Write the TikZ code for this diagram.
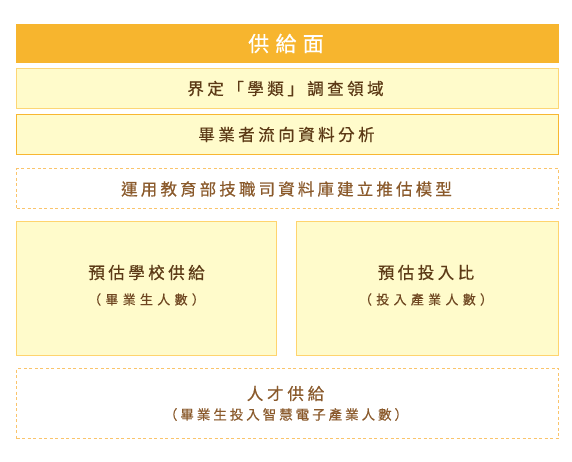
\documentclass[tikz,border=0pt]{standalone}
\usepackage{fontspec}
\newfontfamily\cjkH[LetterSpace=30,FakeBold=0.5]{Noto Sans CJK TC}
\newfontfamily\cjkT[LetterSpace=21,FakeBold=0.5]{Noto Sans CJK TC}
\newfontfamily\cjkD[LetterSpace=19,FakeBold=0.5]{Noto Sans CJK TC}
\newfontfamily\cjkS[LetterSpace=33,FakeBold=0.5]{Noto Sans CJK TC}
\newfontfamily\cjkU[LetterSpace=23,FakeBold=0.5]{Noto Sans CJK TC}
\newfontfamily\cjkV[LetterSpace=22,FakeBold=0.5]{Noto Sans CJK TC}
\definecolor{hdr}{HTML}{F7B52E}
\definecolor{lfill}{HTML}{FFFBCB}
\definecolor{bordA}{HTML}{FDD675}
\definecolor{bordB}{HTML}{F8B731}
\definecolor{bordC}{HTML}{FFD46E}
\definecolor{dashc}{HTML}{FAC46B}
\definecolor{dk}{HTML}{5C3A16}
\definecolor{sb}{HTML}{6E4620}
\definecolor{md}{HTML}{8A5A2C}
\begin{document}
\begin{tikzpicture}[x=1pt,y=-1pt,
  box/.style={rectangle,inner sep=0pt,outer sep=0pt,anchor=north west},
  filled/.style={box,fill=lfill,line width=1.2pt},
  dbox/.style={box,draw=dashc,line width=1pt,dash pattern=on 3pt off 2.5pt},
  ttl/.style={text=dk,font=\cjkT\fontsize{16.5}{18}\selectfont,inner sep=0pt},
  sub/.style={text=sb,font=\cjkS\fontsize{13}{15}\selectfont,inner sep=0pt}]
\useasboundingbox (0,0) rectangle (572,461);
% header
\node[box,fill=hdr,minimum width=543pt,minimum height=39pt] (h) at (16,24) {};
\node[text=white,font=\cjkH\fontsize{21}{23}\selectfont,inner sep=0pt] (ht) at ([xshift=-1.5pt]h.center) {供給面};
% box 2
\node[filled,draw=bordA,minimum width=542pt,minimum height=40pt] (b2) at (16.5,68.5) {};
\node[ttl] (b2t) at ([xshift=-2pt]b2.center) {界定「學類」調查領域};
% box 3
\node[filled,draw=bordB,minimum width=542pt,minimum height=40pt] (b3) at (16.5,114.5) {};
\node[ttl] (b3t) at ([xshift=-1pt]b3.center) {畢業者流向資料分析};
% dashed box
\node[dbox,minimum width=542pt,minimum height=40pt] (d1) at (16.5,168.5) {};
\node[text=md,font=\cjkD\fontsize{16.5}{18}\selectfont,inner sep=0pt] (d1t) at ([xshift=-1pt,yshift=-0.5pt]d1.center) {運用教育部技職司資料庫建立推估模型};
% lower boxes
\node[filled,draw=bordC,minimum width=260pt,minimum height=134pt] (l) at (16.5,221.5) {};
\node[filled,draw=bordC,minimum width=262pt,minimum height=134pt] (r) at (296.5,221.5) {};
\node[ttl] (lt) at ([xshift=0pt,yshift=16pt]l.center) {預估學校供給};
\node[sub] (ls) at ([xshift=0pt,yshift=-11pt]l.center) {（畢業生人數）};
\node[ttl] (rt) at ([xshift=-1.5pt,yshift=16pt]r.center) {預估投入比};
\node[sub] (rs) at ([xshift=-1.5pt,yshift=-11pt]r.center) {（投入產業人數）};
% bottom dashed
\node[dbox,minimum width=542pt,minimum height=70pt] (d2) at (16.5,368.5) {};
\node[text=md,font=\cjkU\fontsize{16.5}{18}\selectfont,inner sep=0pt] (d2t) at ([xshift=-2pt,yshift=10pt]d2.center) {人才供給};
\node[text=md,font=\cjkV\fontsize{13.5}{16}\selectfont,inner sep=0pt] (d2s) at ([xshift=-1.5pt,yshift=-11pt]d2.center) {（畢業生投入智慧電子產業人數）};
\end{tikzpicture}
\end{document}
